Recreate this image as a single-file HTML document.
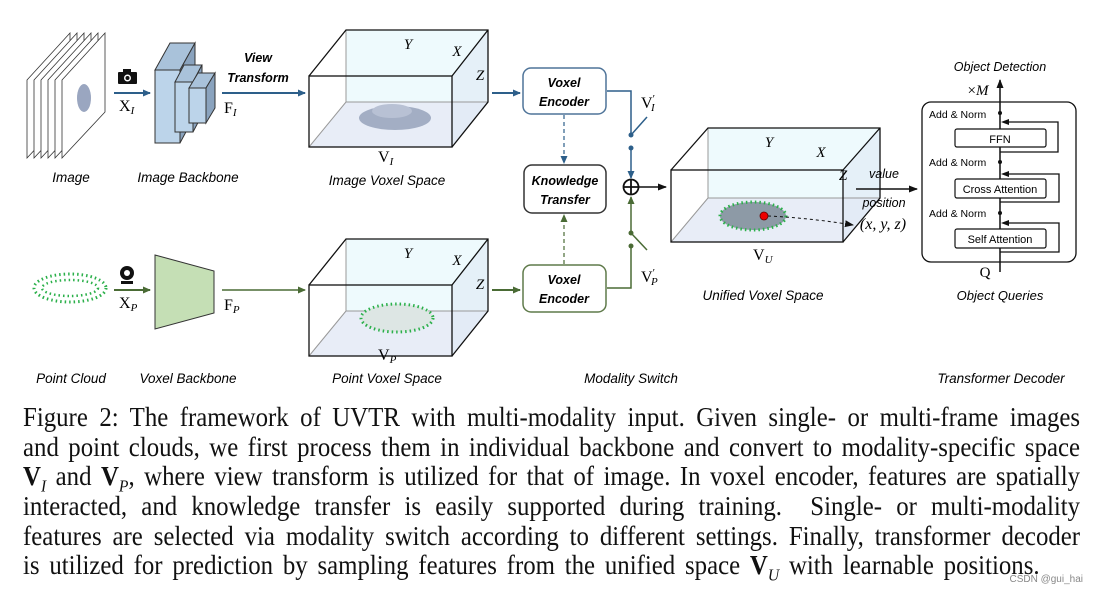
<!DOCTYPE html>
<html><head><meta charset="utf-8"><style>
body{margin:0;background:#fff;width:1098px;height:595px;overflow:hidden;position:relative;font-family:"Liberation Sans",sans-serif}
svg{position:absolute;left:0;top:0}
.cap{position:absolute;left:23px;width:1149px;transform:scaleX(0.92);transform-origin:0 0;font-family:"Liberation Serif",serif;font-size:27px;line-height:30px;text-align:justify;text-align-last:justify;white-space:nowrap;color:#111}
</style></head><body>
<svg width="1098" height="595" viewBox="0 0 1098 595">
<defs>
<marker id="ab" markerWidth="8" markerHeight="8" refX="7" refY="4" orient="auto" markerUnits="userSpaceOnUse"><path d="M0,0.5 L8,4 L0,7.5z" fill="#2d5f8a"/></marker>
<marker id="ag" markerWidth="8" markerHeight="8" refX="7" refY="4" orient="auto" markerUnits="userSpaceOnUse"><path d="M0,0.5 L8,4 L0,7.5z" fill="#4a6b35"/></marker>
<marker id="ak" markerWidth="9" markerHeight="8" refX="8" refY="4" orient="auto" markerUnits="userSpaceOnUse"><path d="M0,0.5 L9,4 L0,7.5z" fill="#111"/></marker>
<g id="cube">
<polygon points="346,30 488,30 488,102 346,102" fill="#eefafd"/>
<polygon points="309,147 346,102 488,102 452,147" fill="#e8edf7"/>
<polygon points="452,76 488,30 488,102 452,147" fill="#dfeaf5" opacity=".6"/>
<line x1="346" y1="30" x2="346" y2="102" stroke="#999" stroke-width="1"/>
<line x1="346" y1="102" x2="488" y2="102" stroke="#999" stroke-width="1"/>
<line x1="346" y1="102" x2="309" y2="147" stroke="#999" stroke-width="1"/>
<path d="M309,76 L346,30 L488,30 L488,102 L452,147 M452,76 L488,30" fill="none" stroke="#111" stroke-width="1.3"/>
<rect x="309" y="76" width="143" height="71" fill="none" stroke="#111" stroke-width="1.3"/>
<text x="408" y="49" font-family="Liberation Serif" font-style="italic" font-size="15" text-anchor="middle">Y</text>
<text x="457" y="56" font-family="Liberation Serif" font-style="italic" font-size="15" text-anchor="middle">X</text>
<text x="480" y="80" font-family="Liberation Serif" font-style="italic" font-size="15" text-anchor="middle">Z</text>
</g>
</defs>
<g fill="#fff" stroke="#333" stroke-width="0.8">
<polygon points="27,80 70,33 70,112 27,158"/>
<polygon points="34,80 77,33 77,112 34,158"/>
<polygon points="41,80 84,33 84,112 41,158"/>
<polygon points="48,80 91,33 91,112 48,158"/>
<polygon points="55,80 98,33 98,112 55,158"/>
<polygon points="62,80 105,33 105,112 62,158"/>
</g>
<ellipse cx="84" cy="98" rx="7" ry="14" fill="#9aa6c0"/>
<rect x="118" y="72" width="19" height="12" rx="1" fill="#111"/><rect x="123" y="69" width="8" height="4" fill="#111"/><circle cx="127.5" cy="78" r="3.5" fill="#fff"/><circle cx="127.5" cy="78" r="2" fill="#111"/>
<line x1="114" y1="93" x2="150" y2="93" stroke="#2d5f8a" stroke-width="2" marker-end="url(#ab)"/>
<text x="119" y="111" font-family="Liberation Serif" font-size="16">X<tspan font-style="italic" font-size="11" dy="3">I</tspan></text>
<g stroke="#333" stroke-width="1">
<polygon points="155,70 170,43 195,43 180,70" fill="#a9c2da"/>
<polygon points="180,70 195,43 195,115 180,143" fill="#8aa3be"/>
<rect x="155" y="70" width="25" height="73" fill="#bcd4ea"/>
<polygon points="175,82 184,65 202,65 193,82" fill="#a9c2da"/>
<polygon points="193,82 202,65 202,115 193,132" fill="#8aa3be"/>
<rect x="175" y="82" width="18" height="50" fill="#bcd4ea"/>
<polygon points="189,88 198,73 215,73 206,88" fill="#a9c2da"/>
<polygon points="206,88 215,73 215,108 206,123" fill="#8aa3be"/>
<rect x="189" y="88" width="17" height="35" fill="#bcd4ea"/>
</g>
<text x="258" y="62" font-size="12.5" font-weight="bold" font-style="italic" text-anchor="middle">View</text>
<text x="258" y="82" font-size="12.5" font-weight="bold" font-style="italic" text-anchor="middle">Transform</text>
<line x1="222" y1="93" x2="305" y2="93" stroke="#2d5f8a" stroke-width="2" marker-end="url(#ab)"/>
<text x="224" y="113" font-family="Liberation Serif" font-size="16">F<tspan font-style="italic" font-size="11" dy="3">I</tspan></text>
<use href="#cube"/>
<ellipse cx="395" cy="118" rx="36" ry="12" fill="#a3aec4"/><ellipse cx="392" cy="111" rx="20" ry="7" fill="#b8c1d4"/>
<text x="378" y="162" font-family="Liberation Serif" font-size="16">V<tspan font-style="italic" font-size="11" dy="3">I</tspan></text>
<ellipse cx="70" cy="288" rx="36" ry="14" fill="none" stroke="#2bb04a" stroke-width="3" stroke-dasharray="1.5,3"/>
<ellipse cx="70" cy="288" rx="28" ry="8" fill="none" stroke="#2bb04a" stroke-width="2.5" stroke-dasharray="1.5,3"/>
<circle cx="127" cy="273" r="7" fill="#111"/><circle cx="127" cy="273" r="3" fill="#fff"/><rect x="121" y="281" width="12" height="3" fill="#111"/>
<line x1="114" y1="290" x2="150" y2="290" stroke="#4a6b35" stroke-width="2" marker-end="url(#ag)"/>
<text x="119" y="308" font-family="Liberation Serif" font-size="16">X<tspan font-style="italic" font-size="11" dy="3">P</tspan></text>
<polygon points="155,255 214,271 214,313 155,329" fill="#c5dfb5" stroke="#333" stroke-width="1"/>
<line x1="222" y1="290" x2="305" y2="290" stroke="#4a6b35" stroke-width="1.5" marker-end="url(#ag)"/>
<text x="224" y="310" font-family="Liberation Serif" font-size="16">F<tspan font-style="italic" font-size="11" dy="3">P</tspan></text>
<use href="#cube" y="209"/>
<ellipse cx="397" cy="318" rx="36" ry="14" fill="#dde6e4" stroke="#2bb04a" stroke-width="3" stroke-dasharray="1.5,3"/>
<text x="378" y="360" font-family="Liberation Serif" font-size="16">V<tspan font-style="italic" font-size="11" dy="3">P</tspan></text>
<line x1="492" y1="93" x2="520" y2="93" stroke="#2d5f8a" stroke-width="2" marker-end="url(#ab)"/>
<line x1="492" y1="290" x2="520" y2="290" stroke="#4a6b35" stroke-width="2" marker-end="url(#ag)"/>
<rect x="523" y="68" width="83" height="46" rx="8" fill="#fff" stroke="#4f7499" stroke-width="1.5"/>
<text x="564" y="87" font-size="12.5" font-weight="bold" font-style="italic" text-anchor="middle">Voxel</text>
<text x="564" y="106" font-size="12.5" font-weight="bold" font-style="italic" text-anchor="middle">Encoder</text>
<rect x="523" y="265" width="83" height="47" rx="8" fill="#fff" stroke="#5f7a4a" stroke-width="1.5"/>
<text x="564" y="284" font-size="12.5" font-weight="bold" font-style="italic" text-anchor="middle">Voxel</text>
<text x="564" y="303" font-size="12.5" font-weight="bold" font-style="italic" text-anchor="middle">Encoder</text>
<rect x="524" y="165" width="82" height="48" rx="8" fill="#fff" stroke="#333" stroke-width="1.5"/>
<text x="565" y="185" font-size="12.5" font-weight="bold" font-style="italic" text-anchor="middle">Knowledge</text>
<text x="565" y="204" font-size="12.5" font-weight="bold" font-style="italic" text-anchor="middle">Transfer</text>
<line x1="564" y1="115" x2="564" y2="163" stroke="#2d5f8a" stroke-width="1.2" stroke-dasharray="4,3" marker-end="url(#ab)"/>
<line x1="564" y1="264" x2="564" y2="215" stroke="#4a6b35" stroke-width="1.2" stroke-dasharray="4,3" marker-end="url(#ag)"/>
<path d="M607,91 L631,91 L631,134" fill="none" stroke="#2d5f8a" stroke-width="1.5"/>
<circle cx="631" cy="135" r="2.5" fill="#2d5f8a"/><line x1="631" y1="135" x2="647" y2="117" stroke="#2d5f8a" stroke-width="1.5"/>
<circle cx="631" cy="148" r="2.5" fill="#2d5f8a"/><line x1="631" y1="148" x2="631" y2="178" stroke="#2d5f8a" stroke-width="1.5" marker-end="url(#ab)"/>
<path d="M607,288 L631,288 L631,246" fill="none" stroke="#4a6b35" stroke-width="1.5"/>
<circle cx="631" cy="246" r="2.5" fill="#4a6b35"/>
<circle cx="631" cy="233" r="2.5" fill="#4a6b35"/><line x1="631" y1="233" x2="647" y2="250" stroke="#4a6b35" stroke-width="1.5"/>
<line x1="631" y1="233" x2="631" y2="197" stroke="#4a6b35" stroke-width="1.5" marker-end="url(#ag)"/>
<circle cx="631" cy="187" r="7.5" fill="#fff" stroke="#111" stroke-width="1.8"/><path d="M623.5,187 H638.5 M631,179.5 V194.5" stroke="#111" stroke-width="1.8"/>
<line x1="639" y1="187" x2="666" y2="187" stroke="#111" stroke-width="1.5" marker-end="url(#ak)"/>
<text x="641" y="108" font-family="Liberation Serif" font-size="16">V<tspan font-size="11" dy="-6">′</tspan><tspan font-style="italic" font-size="11" dx="-4" dy="9">I</tspan></text>
<text x="641" y="282" font-family="Liberation Serif" font-size="16">V<tspan font-size="11" dy="-6">′</tspan><tspan font-style="italic" font-size="11" dx="-4" dy="9">P</tspan></text>
<polygon points="708,128 880,128 880,198 708,198" fill="#eefafd"/>
<polygon points="671,242 708,198 880,198 843,242" fill="#e8edf7"/>
<polygon points="843,170 880,128 880,198 843,242" fill="#dfeaf5" opacity=".6"/>
<path d="M708,128 V198 H880 M708,198 L671,242" fill="none" stroke="#999"/>
<path d="M671,170 L708,128 L880,128 L880,198 L843,242 M843,170 L880,128" fill="none" stroke="#111" stroke-width="1.3"/>
<rect x="671" y="170" width="172" height="72" fill="none" stroke="#111" stroke-width="1.3"/>
<text x="769" y="147" font-family="Liberation Serif" font-style="italic" font-size="15" text-anchor="middle">Y</text>
<text x="821" y="157" font-family="Liberation Serif" font-style="italic" font-size="15" text-anchor="middle">X</text>
<text x="843" y="180" font-family="Liberation Serif" font-style="italic" font-size="15" text-anchor="middle">Z</text>
<ellipse cx="753" cy="216" rx="33" ry="14" fill="#8d9aa6" stroke="#2bb04a" stroke-width="3" stroke-dasharray="1.5,3"/>
<circle cx="764" cy="216" r="4" fill="#e00" stroke="#600" stroke-width="0.8"/>
<path d="M768,216 Q810,218 853,225" fill="none" stroke="#111" stroke-width="1" stroke-dasharray="3,3" marker-end="url(#ak)"/>
<text x="753" y="260" font-family="Liberation Serif" font-size="16">V<tspan font-style="italic" font-size="11" dy="3">U</tspan></text>
<text x="884" y="178" font-size="12.5" font-style="italic" text-anchor="middle">value</text>
<line x1="856" y1="189" x2="917" y2="189" stroke="#111" stroke-width="1.5" marker-end="url(#ak)"/>
<text x="884" y="207" font-size="12.5" font-style="italic" text-anchor="middle">position</text>
<text x="883" y="229" font-family="Liberation Serif" font-style="italic" font-size="16" text-anchor="middle">(x, y, z)</text>
<rect x="922" y="102" width="154" height="160" rx="9" fill="#fff" stroke="#111" stroke-width="1.3"/>
<line x1="1000" y1="272" x2="1000" y2="80" stroke="#111" stroke-width="1.5" marker-end="url(#ak)"/>
<g fill="none" stroke="#111" stroke-width="1.3">
<path d="M1000,252 H1059 V223 H1008"/>
<path d="M1000,202 H1059 V174 H1008"/>
<path d="M1000,152 H1058 V122 H1008"/>
</g>
<g fill="#111"><path d="M1001,223 l8,-3 v6z"/><path d="M1001,174 l8,-3 v6z"/><path d="M1001,122 l8,-3 v6z"/>
<circle cx="1000" cy="113" r="2"/><circle cx="1000" cy="162" r="2"/><circle cx="1000" cy="213" r="2"/></g>
<rect x="955" y="129" width="91" height="18" rx="2" fill="#fff" stroke="#111" stroke-width="1.2"/>
<rect x="955" y="179" width="91" height="19" rx="2" fill="#fff" stroke="#111" stroke-width="1.2"/>
<rect x="955" y="229" width="91" height="19" rx="2" fill="#fff" stroke="#111" stroke-width="1.2"/>
<text x="1000" y="143" font-size="11" text-anchor="middle">FFN</text>
<text x="1000" y="193" font-size="11" text-anchor="middle">Cross Attention</text>
<text x="1000" y="243" font-size="11" text-anchor="middle">Self Attention</text>
<text x="929" y="118" font-size="10.5">Add &amp; Norm</text>
<text x="929" y="166" font-size="10.5">Add &amp; Norm</text>
<text x="929" y="217" font-size="10.5">Add &amp; Norm</text>
<text x="978" y="95" font-family="Liberation Serif" font-size="15" text-anchor="middle">×<tspan font-style="italic">M</tspan></text>
<text x="985" y="277" font-family="Liberation Serif" font-size="15" text-anchor="middle">Q</text>
<text x="1000" y="71" font-size="12.5" font-style="italic" text-anchor="middle">Object Detection</text>
<text x="1000" y="300" font-size="13" font-style="italic" text-anchor="middle">Object Queries</text>
<g font-size="13.5" font-style="italic" text-anchor="middle">
<text x="71" y="182">Image</text>
<text x="188" y="182">Image Backbone</text>
<text x="387" y="185">Image Voxel Space</text>
<text x="763" y="300">Unified Voxel Space</text>
<text x="71" y="383">Point Cloud</text>
<text x="188" y="383">Voxel Backbone</text>
<text x="387" y="383">Point Voxel Space</text>
<text x="631" y="383">Modality Switch</text>
<text x="1001" y="383">Transformer Decoder</text>
</g>
<text x="1083" y="582" font-size="10" fill="#888" text-anchor="end">CSDN @gui_hai</text>
</svg>
<div class="cap" style="top:402px">Figure 2: The framework of UVTR with multi-modality input. Given single- or multi-frame images</div>
<div class="cap" style="top:432px">and point clouds, we first process them in individual backbone and convert to modality-specific space</div>
<div class="cap" style="top:461px"><b>V</b><sub style="font-size:17px;font-style:italic">I</sub> and <b>V</b><sub style="font-size:17px;font-style:italic">P</sub>, where view transform is utilized for that of image. In voxel encoder, features are spatially</div>
<div class="cap" style="top:491px">interacted, and knowledge transfer is easily supported during training.&nbsp; Single- or multi-modality</div>
<div class="cap" style="top:521px">features are selected via modality switch according to different settings. Finally, transformer decoder</div>
<div class="cap" style="top:550px;width:1105px">is utilized for prediction by sampling features from the unified space <b>V</b><sub style="font-size:17px;font-style:italic">U</sub> with learnable positions.</div>
</body></html>
